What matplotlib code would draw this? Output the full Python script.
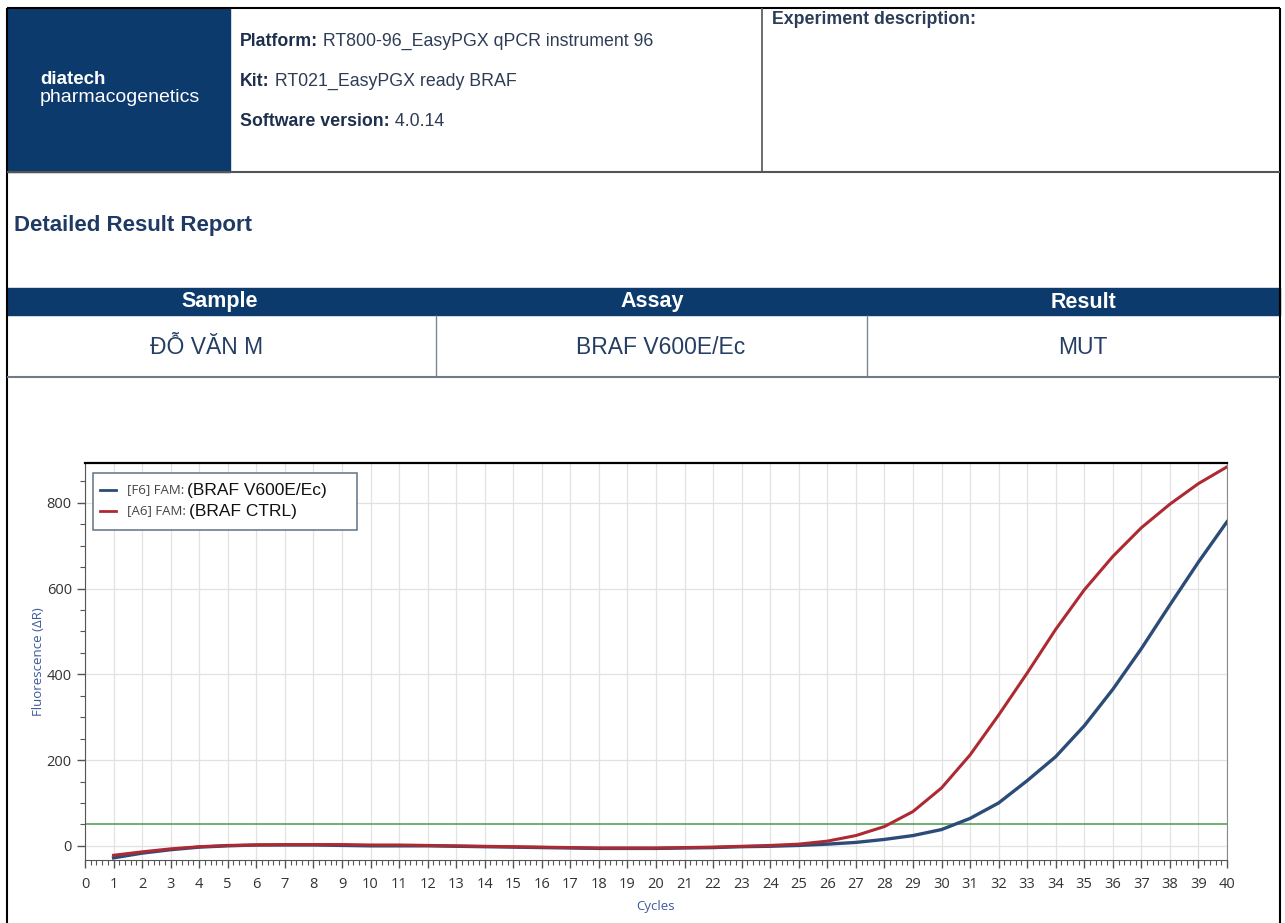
import matplotlib
matplotlib.use("Agg")
import matplotlib.pyplot as plt
from matplotlib.patches import Rectangle
from matplotlib.ticker import MultipleLocator

# amplification data
cycles = list(range(1, 41))
f6_braf_v600e = [-28, -17, -9, -3, 0, 2, 2, 2, 1, 0,
                 0, 0, -1, -2, -3, -4, -5, -6, -6, -6,
                 -5, -4, -2, -1, 1, 4, 8, 15, 24, 38,
                 64, 100, 152, 208, 280, 365, 460, 562, 662, 756]
a6_braf_ctrl = [-22, -14, -7, -2, 1, 2, 3, 3, 3, 2,
                2, 1, 0, -1, -2, -3, -4, -5, -5, -5,
                -4, -3, -1, 1, 4, 11, 24, 45, 80, 135,
                212, 305, 403, 505, 597, 675, 742, 797, 845, 884]
threshold = 50

series_labels = ["[F6] FAM:", "[A6] FAM:"]
series_targets = ["(BRAF V600E/Ec)", "(BRAF CTRL)"]

header_info = [("Platform:", "RT800-96_EasyPGX qPCR instrument 96"),
               ("Kit:", "RT021_EasyPGX ready BRAF"),
               ("Software version:", "4.0.14")]
table_columns = ["Sample", "Assay", "Result"]
table_values = ["ĐỖ VĂN M", "BRAF V600E/Ec", "MUT"]

W, H = 1285, 923
NAVY = "#0c3a6d"
TXT = "#1f3a63"
HFONT = ["Liberation Sans", "DejaVu Sans"]
CFONT = ["Open Sans", "DejaVu Sans"]

fig = plt.figure(figsize=(W / 100, H / 100), dpi=100)
fig.patch.set_facecolor("white")

# background axes in pixel coordinates (y down) for the report layout
bg = fig.add_axes([0, 0, 1, 1])
bg.set_xlim(0, W)
bg.set_ylim(H, 0)
bg.axis("off")


def hline(y, x0, x1, color="black", lw=1.2):
    bg.plot([x0, x1], [y, y], color=color, lw=lw, solid_capstyle="butt")


def vline(x, y0, y1, color="black", lw=1.2):
    bg.plot([x, x], [y0, y1], color=color, lw=lw, solid_capstyle="butt")


# ---- header block
bg.add_patch(Rectangle((7, 8), 223, 164, color=NAVY, zorder=0))
bg.text(40, 80, "diatech", color="white", fontsize=13.5, fontweight="bold",
        family=HFONT, va="center")
bg.text(40, 97, "pharmacogenetics", color="white", fontsize=14,
        family=HFONT, va="center")

for i, (lab, val) in enumerate(header_info):
    t = bg.text(240, 42 + 40 * i, lab, color="#1d2f4d", fontsize=12.8,
                fontweight="bold", family=HFONT, va="center")
    bg.annotate(" " + val, xy=(1, 0), xycoords=t, xytext=(0, 0),
                textcoords="offset points", va="bottom", ha="left",
                color="#2e3d55", fontsize=12.8, family=HFONT)

bg.text(772, 20, "Experiment description:", color="#2b3d58", fontsize=12.8,
        fontweight="bold", family=HFONT, va="center")

hline(8, 7, 1280, lw=1.5)
vline(7, 8, 923, lw=1.5)
vline(1280, 8, 923, lw=1.5)
vline(762, 8, 172, color="#555555", lw=1.2)
hline(172, 7, 1280, color="#555555", lw=1.5)

bg.text(14, 226, "Detailed Result Report", color=TXT, fontsize=16,
        fontweight="bold", family=HFONT, va="center")

# ---- result table
bg.add_patch(Rectangle((7, 288), 1273, 27, color=NAVY, zorder=0))
head_centers = [220, 652, 1083]
value_centers = [207, 661, 1083]
for hx, vx, name, val in zip(head_centers, value_centers, table_columns, table_values):
    bg.text(hx, 302, name, color="white", fontsize=15.5, fontweight="bold",
            family=HFONT, ha="center", va="center")
    bg.text(vx, 347, val, color="#263e63", fontsize=16.5,
            family=HFONT, ha="center", va="center")
vline(436, 315, 377, color="#7a8796", lw=1)
vline(867, 315, 377, color="#7a8796", lw=1)
hline(377, 7, 1280, color="#6f7a86", lw=1.5)

# ---- amplification plot
ax = fig.add_axes([85 / W, 1 - 860 / H, 1142 / W, 397 / H])
ax.set_xlim(0, 40)
ax.set_ylim(-33, 893)

ax.plot(cycles, f6_braf_v600e, color="#2c4c78", lw=2.4, zorder=3)
ax.plot(cycles, a6_braf_ctrl, color="#ad2a33", lw=2.2, zorder=3)
ax.axhline(threshold, color="#4a9a4a", lw=1.1, zorder=2)

ax.xaxis.set_major_locator(MultipleLocator(1))
ax.xaxis.set_minor_locator(MultipleLocator(0.2))
ax.yaxis.set_major_locator(MultipleLocator(200))
ax.yaxis.set_minor_locator(MultipleLocator(50))
ax.grid(True, which="major", color="#e2e2e2", lw=0.9)
ax.set_axisbelow(True)
ax.tick_params(axis="both", which="major", direction="out", length=6, width=1,
               color="#555555", labelsize=10.5, labelcolor="#333333")
ax.tick_params(axis="x", which="major", pad=6)
ax.tick_params(axis="both", which="minor", direction="out", length=3.5, width=0.8,
               color="#555555")
for lab in ax.get_xticklabels() + ax.get_yticklabels():
    lab.set_family(CFONT)

ax.spines["top"].set_linewidth(1.6)
ax.spines["top"].set_color("black")
ax.spines["right"].set_color("#888888")
ax.spines["left"].set_color("#555555")
ax.spines["bottom"].set_color("#555555")

ax.set_xlabel("Cycles", color="#3d5a99", fontsize=9.5, family=CFONT, labelpad=6)
ax.set_ylabel("Fluorescence (ΔR)", color="#3d5a99", fontsize=9.5,
              family=CFONT, labelpad=1)

# legend box
ax.add_patch(Rectangle((0.007, 0.831), 0.231, 0.144, transform=ax.transAxes,
                       facecolor="white", edgecolor="#5f7385", lw=1.1, zorder=5))
leg_colors = ["#2c4c78", "#ad2a33"]
for i, (lab, tgt, c) in enumerate(zip(series_labels, series_targets, leg_colors)):
    yy = 0.932 - 0.053 * i
    ax.plot([0.0131, 0.0271], [yy, yy], color=c, lw=2, transform=ax.transAxes,
            zorder=6, clip_on=False)
    t = ax.text(0.0368, yy, lab, transform=ax.transAxes, fontsize=9.5,
                color="#444444", va="center", zorder=6, family=CFONT)
    ax.annotate(tgt, xy=(1, 0), xycoords=t, xytext=(2, -1),
                textcoords="offset points", va="bottom", ha="left", fontsize=12.5,
                color="#111111", family=HFONT, zorder=6)

fig.savefig("out.png", dpi=100)
